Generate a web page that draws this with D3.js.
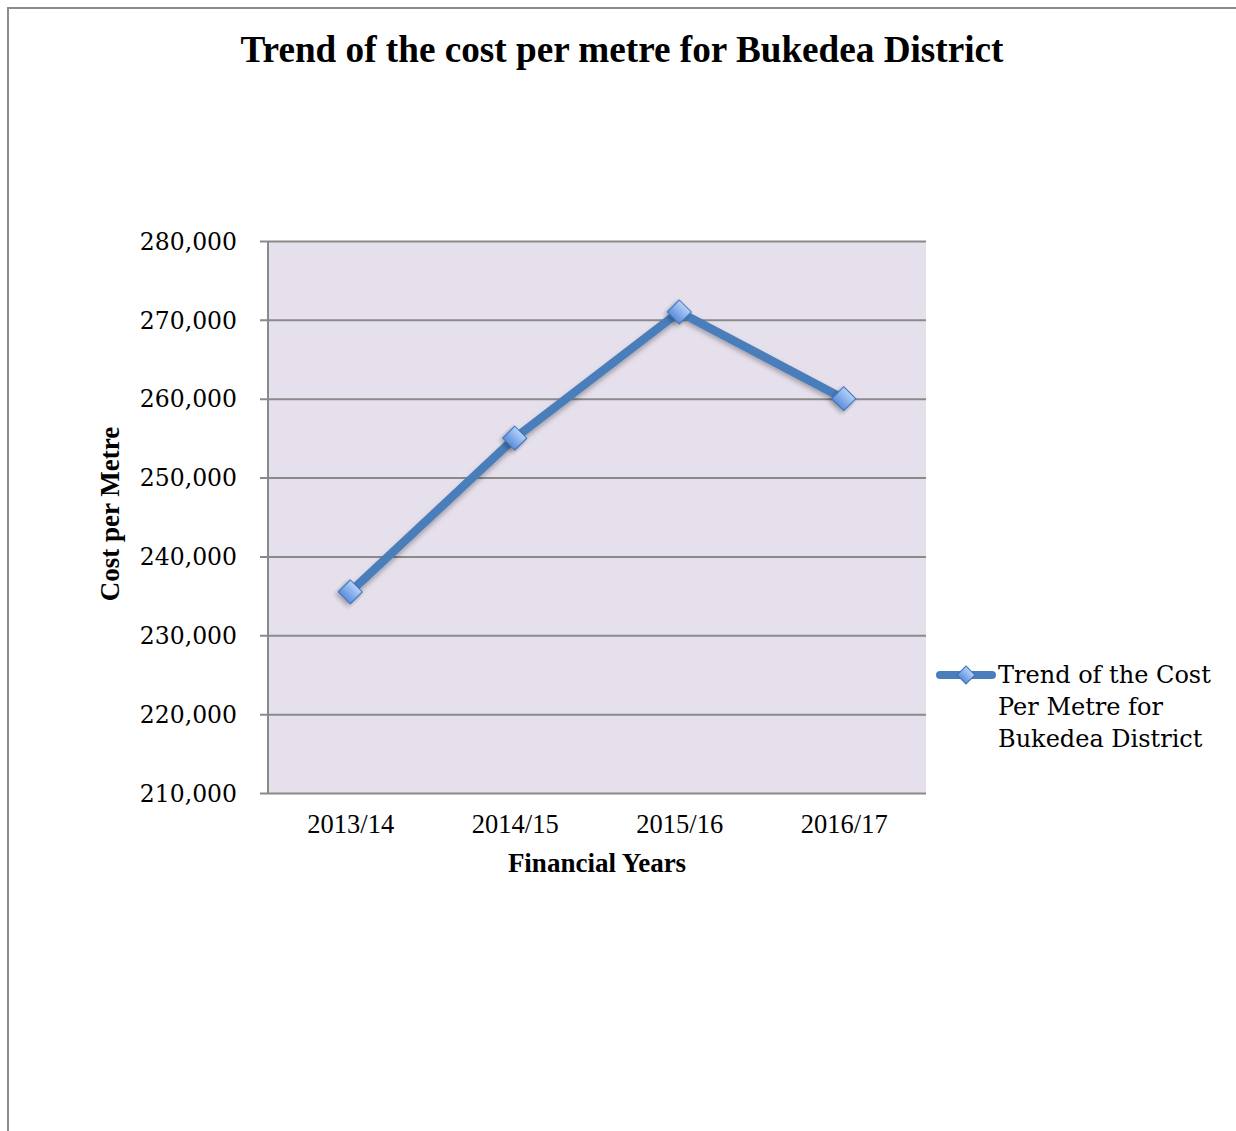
<!DOCTYPE html>
<html>
<head>
<meta charset="utf-8">
<script src="https://cdn.jsdelivr.net/npm/d3@7/dist/d3.min.js"></script>
<style>
  html, body { margin: 0; padding: 0; background: #fff; }
  svg { display: block; }
</style>
</head>
<body>
<svg id="chart" width="1236" height="1131"></svg>
<script>
// Financial years and average cost per metre (UGX)
const years = ["2013/14", "2014/15", "2015/16", "2016/17"];
const costPerMetre = [235500, 255000, 271000, 260000];
const yTicks = [210000, 220000, 230000, 240000, 250000, 260000, 270000, 280000];
const legendLines = ["Trend of the Cost", "Per Metre for", "Bukedea District"];

const svg = d3.select("#chart");
const W = 1236, H = 1131;
const plot = { left: 268, right: 926, top: 241, bottom: 793 };

const serifTimes = "'Liberation Serif', 'Times New Roman', serif";
const serifBook = "'DejaVu Serif', serif";

// Outer frame (runs off right and bottom edges)
svg.append("path")
  .attr("d", `M8,${H + 5} L8,8 L${W + 5},8`)
  .attr("fill", "none").attr("stroke", "#8c8c8c").attr("stroke-width", 2);

// Gradient + shadow definitions
const defs = svg.append("defs");
const grad = defs.append("linearGradient").attr("id", "markerFill")
  .attr("x1", 0).attr("y1", 0).attr("x2", 0).attr("y2", 1);
grad.append("stop").attr("offset", "0%").attr("stop-color", "#b4d2fb");
grad.append("stop").attr("offset", "100%").attr("stop-color", "#5b8edb");

const shadow = defs.append("filter").attr("id", "shadow")
  .attr("x", "-20%").attr("y", "-20%").attr("width", "140%").attr("height", "160%");
shadow.append("feDropShadow").attr("dx", 0).attr("dy", 3).attr("stdDeviation", 2.5)
  .attr("flood-color", "#000").attr("flood-opacity", 0.3);

// Title
svg.append("text")
  .attr("x", 622).attr("y", 62)
  .attr("text-anchor", "middle")
  .attr("font-family", serifTimes).attr("font-weight", "bold").attr("font-size", 37.2)
  .text("Trend of the cost per metre for Bukedea District");

// Scales
const x = d3.scalePoint().domain(years).range([plot.left, plot.right]).padding(0.5);
const y = d3.scaleLinear().domain([210000, 280000]).range([plot.bottom, plot.top]);

// Plot background
svg.append("rect")
  .attr("x", plot.left).attr("y", plot.top)
  .attr("width", plot.right - plot.left).attr("height", plot.bottom - plot.top)
  .attr("fill", "#e6e0ec");

// Horizontal gridlines with outer ticks
const yAxis = d3.axisLeft(y).tickValues(yTicks)
  .tickSize(-(plot.right - plot.left + 8)).tickFormat(d3.format(","));
const gy = svg.append("g").attr("transform", `translate(${plot.right},0)`).call(yAxis);
gy.select(".domain").remove();
gy.selectAll(".tick line").attr("stroke", "#8a8a8a").attr("stroke-width", 2)
  .attr("x2", -(plot.right - plot.left + 8)).attr("x1", 0);
gy.selectAll(".tick text")
  .attr("x", -(plot.right - plot.left) - 31)
  .attr("dy", "0.35em")
  .attr("font-family", serifBook).attr("font-size", 23.5).attr("fill", "#000")
  .attr("text-anchor", "end");

// Vertical axis line
svg.append("line")
  .attr("x1", plot.left).attr("x2", plot.left)
  .attr("y1", plot.top).attr("y2", plot.bottom)
  .attr("stroke", "#8a8a8a").attr("stroke-width", 2);

// Category axis
const xAxis = d3.axisBottom(x).tickSize(0).tickPadding(0);
const gx = svg.append("g").attr("transform", `translate(0,${plot.bottom})`).call(xAxis);
gx.select(".domain").remove();
gx.selectAll(".tick text")
  .attr("y", 40).attr("dy", 0)
  .attr("font-family", serifTimes).attr("font-size", 26.5).attr("fill", "#000");

// Axis titles
svg.append("text")
  .attr("x", (plot.left + plot.right) / 2).attr("y", 872)
  .attr("text-anchor", "middle")
  .attr("font-family", serifTimes).attr("font-weight", "bold").attr("font-size", 27)
  .text("Financial Years");

svg.append("text")
  .attr("transform", `translate(119,${(plot.top + plot.bottom) / 2 - 3}) rotate(-90)`)
  .attr("text-anchor", "middle")
  .attr("font-family", serifTimes).attr("font-weight", "bold").attr("font-size", 27)
  .text("Cost per Metre");

// Series line
const line = d3.line().x((d, i) => x(years[i])).y(d => y(d));
svg.append("path")
  .datum(costPerMetre)
  .attr("d", line)
  .attr("fill", "none").attr("stroke", "#4a7ebb").attr("stroke-width", 8.5)
  .attr("stroke-linejoin", "round").attr("stroke-linecap", "round")
  .attr("filter", "url(#shadow)");

// Diamond markers
svg.append("g").selectAll("path")
  .data(costPerMetre)
  .join("path")
  .attr("transform", (d, i) => `translate(${x(years[i])},${y(d)}) rotate(45)`)
  .attr("d", d3.symbol().type(d3.symbolSquare).size(290))
  .attr("fill", "url(#markerFill)")
  .attr("stroke", "#3d6fb4").attr("stroke-width", 1.2)
  .attr("stroke-linejoin", "round")
  .attr("filter", "url(#shadow)");

// Legend
const lg = svg.append("g");
lg.append("line")
  .attr("x1", 940).attr("x2", 992).attr("y1", 675).attr("y2", 675)
  .attr("stroke", "#4a7ebb").attr("stroke-width", 8).attr("stroke-linecap", "round");
lg.append("path")
  .attr("transform", "translate(966,675) rotate(45)")
  .attr("d", d3.symbol().type(d3.symbolSquare).size(160))
  .attr("fill", "url(#markerFill)").attr("stroke", "#3d6fb4").attr("stroke-width", 1);
lg.selectAll("text")
  .data(legendLines)
  .join("text")
  .attr("x", 998).attr("y", (d, i) => 683 + i * 32)
  .attr("font-family", serifBook).attr("font-size", 24).attr("fill", "#000")
  .text(d => d);
</script>
</body>
</html>
